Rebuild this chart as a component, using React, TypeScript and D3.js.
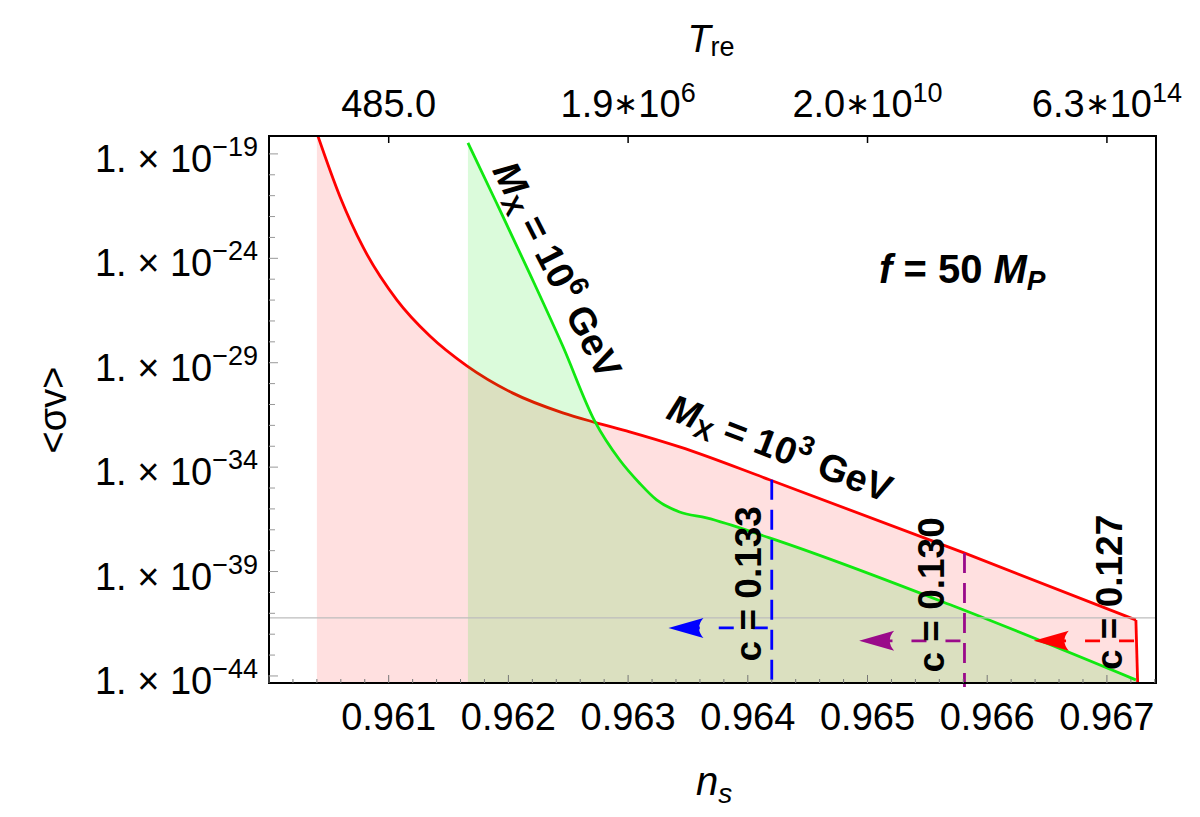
import { useEffect, useRef } from 'react';
import * as d3 from 'd3';

const W = 1200;
const H = 817;
const FONT = '"Liberation Sans", Arial, sans-serif';

// axes
const xDomain = [0.96, 0.96741];
const yDomain = [7.2e-19, 4.6e-45];
const bottomTicks = [0.961, 0.962, 0.963, 0.964, 0.965, 0.966, 0.967];
const topTicks = [0.961, 0.963, 0.965, 0.967];
const topBase = ['485.0', '1.9', '2.0', '6.3'];
const topExp = ['', '6', '10', '14'];
const leftExps = [-19, -24, -29, -34, -39, -44];

// M_X = 10^3 GeV (smooth part, then the near-vertical drop)
const redNs = [0.9604, 0.960594, 0.960785, 0.961069, 0.961344, 0.961653, 0.962037, 0.962454, 0.962721, 0.963013, 0.96343, 0.964181, 0.965807, 0.967242];
const redSv = [1.0e-18, 8.7e-22, 3.5e-24, 1.0e-26, 1.9e-28, 7.1e-30, 3.5e-31, 4.0e-32, 1.4e-32, 4.9e-33, 9.3e-34, 2.5e-35, 7.8e-39, 4.8e-42];
const redDropNs = [0.967242, 0.96726];
const redDropSv = [4.8e-42, 1e-45];

// M_X = 10^6 GeV
const greenNs = [0.961662, 0.961904, 0.962179, 0.962454, 0.962721, 0.96293, 0.963096, 0.963238, 0.96343, 0.963655, 0.964181, 0.96574, 0.967242];
const greenSv = [3.4e-19, 4.1e-22, 1.8e-25, 6.3e-29, 1.6e-32, 2.2e-34, 1.7e-35, 2.7e-36, 7.1e-37, 3.7e-37, 4.1e-38, 2.0e-41, 6.5e-45];

const refLine = 6.0e-42;

// c cuts
const cutLabels = ['c = 0.133', 'c = 0.130', 'c = 0.127'];
const cutNs = [0.9642, 0.96581, 0.96726];
const cutTop = [2.5e-35, 7.8e-39, null];
const arrowSv = [2.0e-42, 4.8e-43, 4.8e-43];
const arrowTip = [0.963337, 0.96493, 0.966389];
const cutColors = ['#0000ff', '#9a0a8a', '#ff0000'];
const cutLabelNs = [0.964112, 0.965638, 0.967123];
const cutLabelSv = [2.6e-40, 7.6e-41, 1.0e-40];

export default function App() {
  const svgRef = useRef(null);

  useEffect(() => {
    const svg = d3.select(svgRef.current);
    svg.selectAll('*').remove();

    const left = 269, right = 1156, top = 136, bottom = 683;
    const x = d3.scaleLinear().domain(xDomain).range([left, right]);
    const y = d3.scaleLog().domain(yDomain).range([top, bottom]);

    svg.append('rect').attr('width', W).attr('height', H).attr('fill', '#fff');

    svg.append('defs').append('clipPath').attr('id', 'plot-clip')
      .append('rect')
      .attr('x', left).attr('y', top)
      .attr('width', right - left).attr('height', bottom - top);

    const plot = svg.append('g').attr('clip-path', 'url(#plot-clip)');

    const red = redNs.map((n, i) => [n, redSv[i]]);
    const redDrop = redDropNs.map((n, i) => [n, redDropSv[i]]);
    const green = greenNs.map((n, i) => [n, greenSv[i]]);

    const area = d3.area()
      .x(d => x(d[0]))
      .y0(bottom + 10)
      .y1(d => y(d[1]))
      .curve(d3.curveMonotoneX);
    const line = d3.line()
      .x(d => x(d[0]))
      .y(d => y(d[1]))
      .curve(d3.curveMonotoneX);
    const straight = d3.line()
      .x(d => x(d[0]))
      .y(d => y(d[1]));

    plot.append('path').attr('d', area(red)).attr('fill', 'rgba(255,0,0,0.12)');
    plot.append('path').attr('d', area.curve(d3.curveLinear)(redDrop)).attr('fill', 'rgba(255,0,0,0.12)');
    area.curve(d3.curveMonotoneX);
    plot.append('path').attr('d', line(red)).attr('fill', 'none')
      .attr('stroke', '#ff0000').attr('stroke-width', 2.8);
    plot.append('path').attr('d', straight(redDrop)).attr('fill', 'none')
      .attr('stroke', '#ff0000').attr('stroke-width', 2.8);
    plot.append('path').attr('d', area(green)).attr('fill', 'rgba(0,230,0,0.14)');
    plot.append('path').attr('d', line(green)).attr('fill', 'none')
      .attr('stroke', '#11e811').attr('stroke-width', 2.8);

    plot.append('line')
      .attr('x1', left).attr('x2', right)
      .attr('y1', y(refLine)).attr('y2', y(refLine))
      .attr('stroke', '#bdbdbd').attr('stroke-width', 1.2);

    // dashed cuts + arrows
    cutNs.forEach((n, i) => {
      const col = cutColors[i];
      const cx = x(n);
      if (cutTop[i] !== null) {
        svg.append('line')
          .attr('x1', cx).attr('x2', cx)
          .attr('y1', y(cutTop[i])).attr('y2', bottom + 4)
          .attr('stroke', col).attr('stroke-width', 2.8)
          .attr('stroke-dasharray', '20,10');
      }
      const ay = y(arrowSv[i]);
      const tip = x(arrowTip[i]);
      const L = 35, hw = 10;
      svg.append('line')
        .attr('x1', cx - 4).attr('x2', tip + L * 0.7)
        .attr('y1', ay).attr('y2', ay)
        .attr('stroke', col).attr('stroke-width', 2.8)
        .attr('stroke-dasharray', '15,19');
      svg.append('path')
        .attr('d', `M${tip},${ay} L${tip + L},${ay - hw} Q${tip + L * 0.75},${ay} ${tip + L},${ay + hw} Z`)
        .attr('fill', col);

      svg.append('text')
        .attr('transform', `translate(${x(cutLabelNs[i])},${y(cutLabelSv[i])}) rotate(-90)`)
        .attr('text-anchor', 'middle')
        .style('font-family', FONT)
        .style('font-weight', 'bold')
        .style('font-size', '37px')
        .text(cutLabels[i]);
    });

    // frame
    svg.append('rect')
      .attr('x', left).attr('y', top)
      .attr('width', right - left).attr('height', bottom - top)
      .attr('fill', 'none').attr('stroke', '#000').attr('stroke-width', 2);

    // bottom ticks
    const minor = d3.range(0.9600, 0.96741, 0.0002);
    minor.forEach(v => {
      const major = Math.abs(Math.round(v * 1000) / 1000 - v) < 1e-7;
      svg.append('line')
        .attr('x1', x(v)).attr('x2', x(v))
        .attr('y1', bottom).attr('y2', bottom - (major ? 8 : 4))
        .attr('stroke', '#777').attr('stroke-width', 1);
    });
    bottomTicks.forEach(v => {
      svg.append('text')
        .attr('x', x(v)).attr('y', 730)
        .attr('text-anchor', 'middle')
        .style('font-family', FONT).style('font-size', '38px')
        .text(v.toFixed(3));
    });

    // top ticks + labels
    topTicks.forEach((v, i) => {
      svg.append('line')
        .attr('x1', x(v)).attr('x2', x(v))
        .attr('y1', top).attr('y2', top + 7)
        .attr('stroke', '#000').attr('stroke-width', 1.5);
      const t = svg.append('text')
        .attr('x', x(v)).attr('y', 117)
        .attr('text-anchor', 'middle')
        .style('font-family', FONT).style('font-size', '38px');
      t.append('tspan').text(topBase[i]);
      if (topExp[i]) {
        t.append('tspan').attr('dy', -3).style('font-size', '30px').text('∗');
        t.append('tspan').attr('dy', 3).text('10');
        t.append('tspan').attr('dy', -15).style('font-size', '27px').text(topExp[i]);
      }
    });

    // left ticks + labels
    d3.range(-19, -45, -1).forEach(e => {
      const major = leftExps.includes(e);
      svg.append('line')
        .attr('x1', left).attr('x2', left + (major ? 9 : 6))
        .attr('y1', y(Math.pow(10, e))).attr('y2', y(Math.pow(10, e)))
        .attr('stroke', '#999').attr('stroke-width', 1);
    });
    leftExps.forEach(e => {
      const t = svg.append('text')
        .attr('x', 258).attr('y', y(Math.pow(10, e)) + 18)
        .attr('text-anchor', 'end')
        .style('font-family', FONT).style('font-size', '38px');
      t.append('tspan').text('1. × 10');
      t.append('tspan').attr('dy', -16).style('font-size', '27px').text(`−${-e}`);
    });

    // axis titles
    const tre = svg.append('text')
      .attr('x', 711).attr('y', 52)
      .attr('text-anchor', 'middle')
      .style('font-family', FONT).style('font-size', '38px');
    tre.append('tspan').style('font-style', 'italic').text('T');
    tre.append('tspan').attr('dy', 4).style('font-size', '27px').text('re');

    const nsT = svg.append('text')
      .attr('x', 714).attr('y', 795)
      .attr('text-anchor', 'middle')
      .style('font-family', FONT).style('font-size', '40px').style('font-style', 'italic');
    nsT.append('tspan').text('n');
    nsT.append('tspan').attr('dy', 8).style('font-size', '28px').text('s');

    svg.append('text')
      .attr('transform', 'translate(66,410) rotate(-90)')
      .attr('text-anchor', 'middle')
      .style('font-family', FONT).style('font-size', '38px')
      .text('<σv>');

    // curve labels
    const mLabel = (n, v, ang, exp) => {
      const t = svg.append('text')
        .attr('transform', `translate(${x(n)},${y(v)}) rotate(${ang})`)
        .attr('text-anchor', 'middle')
        .attr('dy', '0.35em')
        .style('font-family', FONT).style('font-weight', 'bold').style('font-size', '38px');
      t.append('tspan').style('font-style', 'italic').text('M');
      t.append('tspan').attr('dy', 7).style('font-size', '27px').text('X');
      t.append('tspan').attr('dy', -7).text(' = 10');
      t.append('tspan').attr('dy', -16).style('font-size', '27px').text(exp);
      t.append('tspan').attr('dy', 16).text(' GeV');
    };
    mLabel(0.96241, 2.8e-25, 63, '6');
    mLabel(0.96427, 8.3e-34, 21, '3');

    const f = svg.append('text')
      .attr('x', x(0.965096)).attr('y', y(6.6e-26))
      .style('font-family', FONT).style('font-weight', 'bold').style('font-size', '40px');
    f.append('tspan').style('font-style', 'italic').text('f');
    f.append('tspan').text(' = 50 ');
    f.append('tspan').style('font-style', 'italic').text('M');
    f.append('tspan').attr('dy', 7).style('font-style', 'italic').style('font-size', '28px').text('P');
  }, []);

  return <svg ref={svgRef} width={W} height={H} style={{ display: 'block', margin: -8 }}></svg>;
}
